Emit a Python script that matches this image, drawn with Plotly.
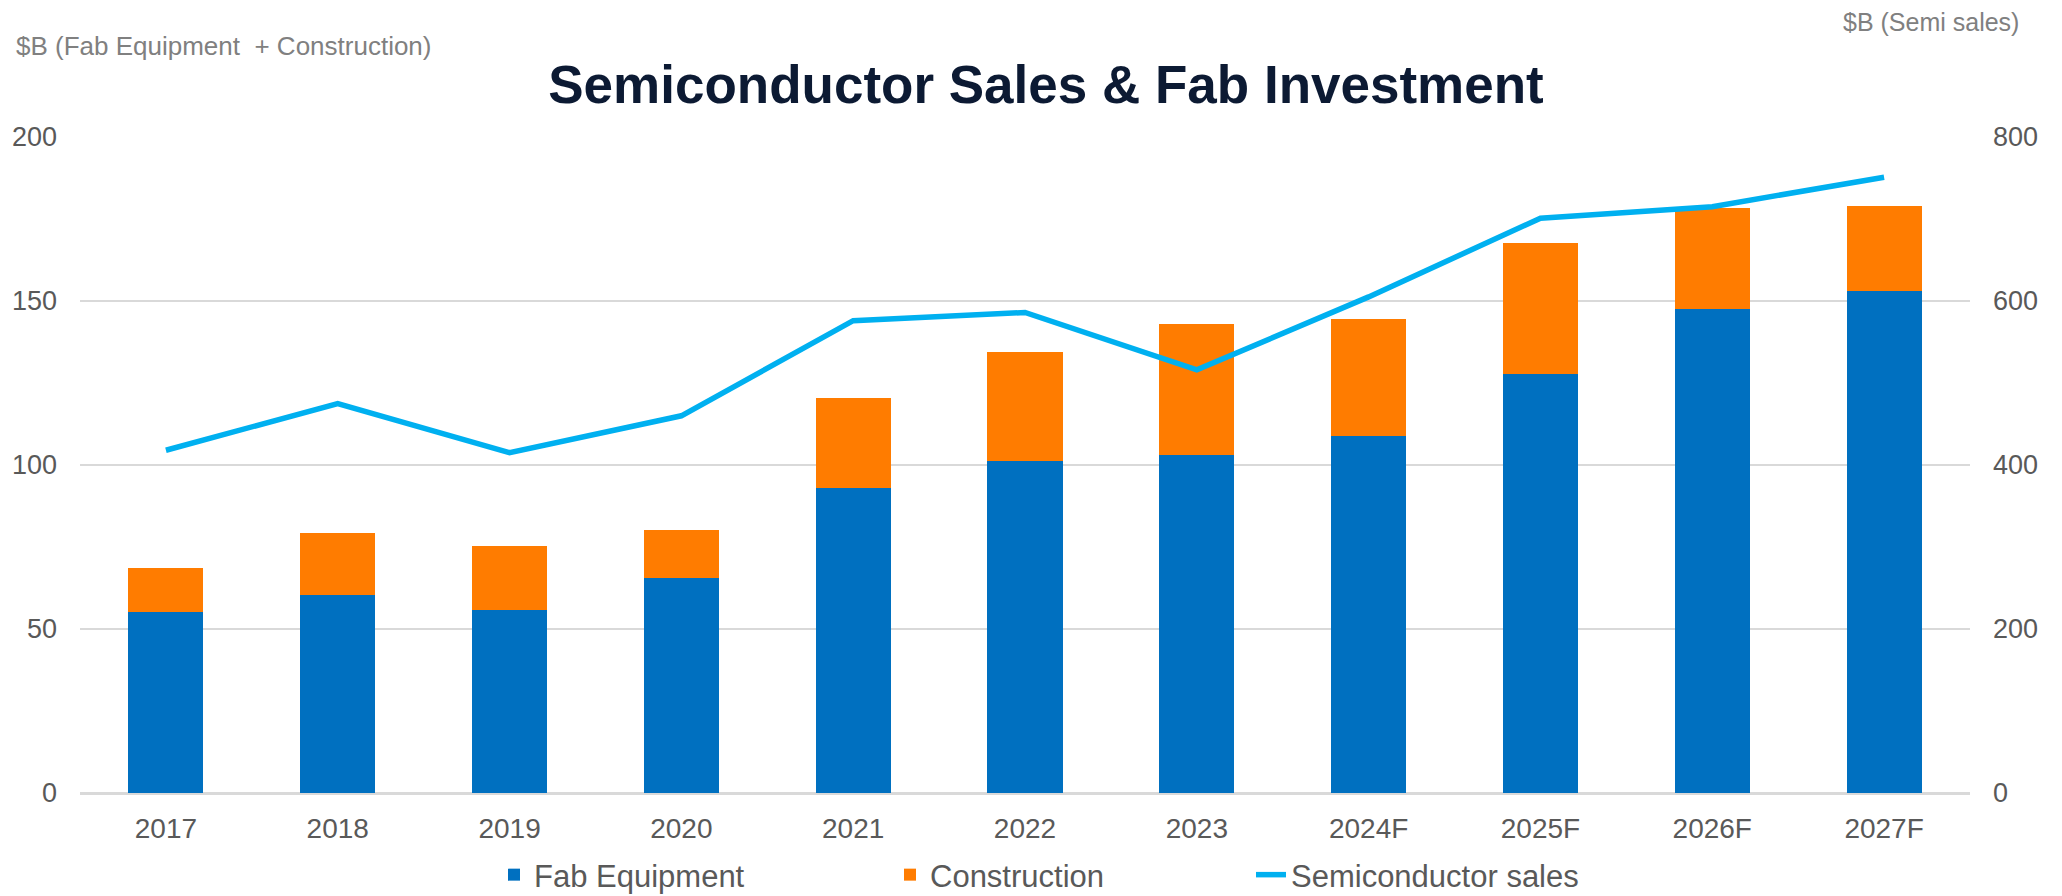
import plotly.graph_objects as go

years = ["2017", "2018", "2019", "2020", "2021", "2022", "2023", "2024F", "2025F", "2026F", "2027F"]
fab_equipment = [55.2, 60.3, 55.7, 65.5, 93.0, 101.3, 103.2, 108.7, 127.7, 147.7, 153.1]
construction = [13.3, 19.1, 19.5, 14.8, 27.4, 33.1, 39.7, 35.8, 40.1, 30.8, 25.8]
semi_sales = [418, 475, 415, 460, 576, 586, 516, 605, 701, 715, 751]

FONT = "Liberation Sans, Arial, sans-serif"
TICK = "#595959"

fig = go.Figure()
fig.add_trace(go.Bar(x=years, y=fab_equipment, name="Fab Equipment",
                     marker=dict(color="#0070C0", line=dict(width=0)), legend="legend"))
fig.add_trace(go.Bar(x=years, y=construction, name="Construction",
                     marker=dict(color="#FF7C00", line=dict(width=0)), legend="legend2"))
fig.add_trace(go.Scatter(x=years, y=semi_sales, name="Semiconductor sales", mode="lines",
                         line=dict(color="#00B0F0", width=5.5), yaxis="y2", legend="legend3"))

W, H = 2062, 896
ml, mr, mt, mb = 80, 92, 137, 103
pw = W - ml - mr
ph = H - mt - mb

leg = dict(orientation="h", yref="container", yanchor="middle", y=1 - 875 / H,
           xref="container", xanchor="left",
           font=dict(family=FONT, size=31, color=TICK), bgcolor="rgba(0,0,0,0)",
           itemwidth=30)

fig.update_layout(
    width=W, height=H,
    margin=dict(l=ml, r=mr, t=mt, b=mb, autoexpand=False),
    paper_bgcolor="white", plot_bgcolor="white",
    barmode="stack", bargap=0.563,
    showlegend=True,
    font=dict(family=FONT, color=TICK),
    title=dict(text="<b>Semiconductor Sales & Fab Investment</b>",
               x=1046 / W, xref="container", xanchor="center",
               y=1 - 84 / H, yref="container", yanchor="middle",
               font=dict(family=FONT, size=53, color="#0C1A33")),
    xaxis=dict(showgrid=False, showline=False, ticks="", tickfont=dict(size=28, color=TICK),
               ticklabelstandoff=16),
    yaxis=dict(range=[0, 200], dtick=50, showgrid=True, gridcolor="#D9D9D9", gridwidth=2,
               zeroline=True, zerolinecolor="#D9D9D9", zerolinewidth=3,
               tickfont=dict(size=27, color=TICK), ticklabelstandoff=22, showline=False),
    yaxis2=dict(range=[0, 800], dtick=200, overlaying="y", side="right", showgrid=False,
                zeroline=False, tickfont=dict(size=27, color=TICK), ticklabelstandoff=22),
    legend=dict(leg, x=494 / W),
    legend2=dict(leg, x=890 / W),
    legend3=dict(leg, x=1251 / W),
    annotations=[
        dict(text="$B (Fab Equipment  + Construction)", xref="paper", yref="paper",
             x=(14 - ml) / pw, y=1 + (mt - 46) / ph, xanchor="left", yanchor="middle",
             showarrow=False, font=dict(family=FONT, size=26, color="#808080")),
        dict(text="$B (Semi sales)", xref="paper", yref="paper",
             x=(2021 - ml) / pw, y=1 + (mt - 22) / ph, xanchor="right", yanchor="middle",
             showarrow=False, font=dict(family=FONT, size=25, color="#808080")),
    ],
)

fig.write_html("out.html", config={"displayModeBar": False},
               post_script="document.body.style.margin='0';document.body.style.overflow='hidden';")
